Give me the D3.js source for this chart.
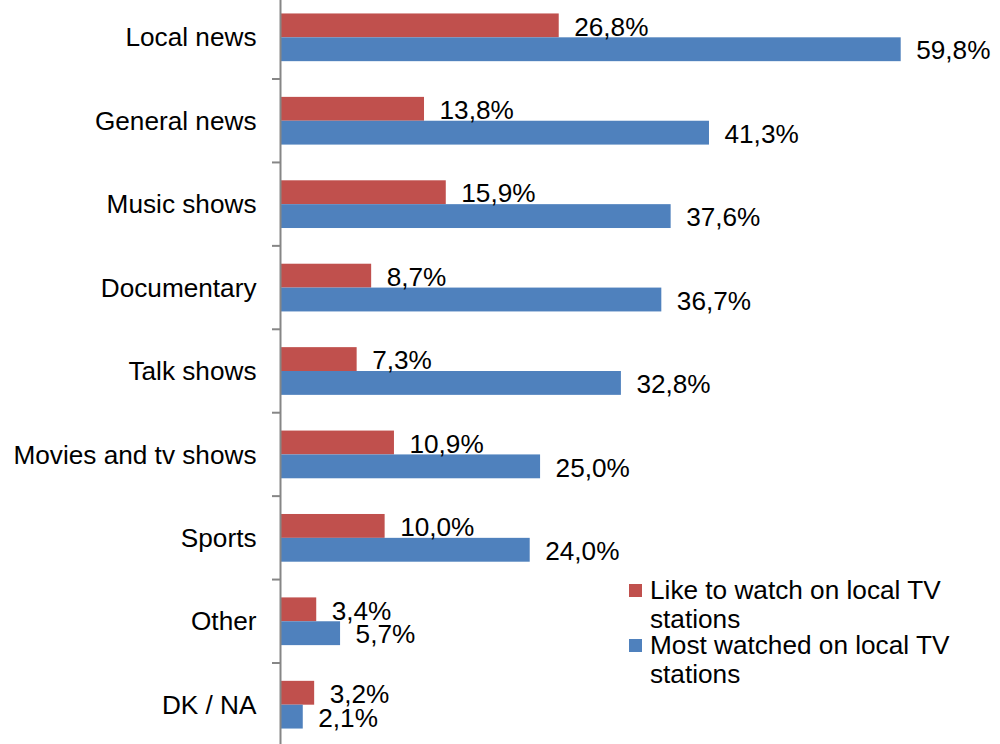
<!DOCTYPE html>
<html>
<head>
<meta charset="utf-8">
<script src="https://cdn.jsdelivr.net/npm/d3@7"></script>
<style>
  html, body { margin: 0; padding: 0; background: #fff; }
  svg { display: block; }
  text { font-family: "Liberation Sans", Arial, sans-serif; fill: #000; }
</style>
</head>
<body>
<svg id="chart" width="1000" height="744"></svg>
<script>
// Program types watched on local TV stations (percent of respondents)
const categories = ["Local news", "General news", "Music shows", "Documentary", "Talk shows",
                    "Movies and tv shows", "Sports", "Other", "DK / NA"];
const likeToWatch = [26.8, 13.8, 15.9, 8.7, 7.3, 10.9, 10.0, 3.4, 3.2];
const mostWatched = [59.8, 41.3, 37.6, 36.7, 32.8, 25.0, 24.0, 5.7, 2.1];
const seriesNames = ["Like to watch on local TV stations", "Most watched on local TV stations"];
const seriesColors = ["#C0504D", "#4F81BD"];

const fontSize = 26.2;
const svg = d3.select("#chart");

const x = d3.scaleLinear().domain([0, 70]).range([281, 1006.4]);
const y = d3.scaleBand().domain(categories).range([-4.4, 746.4])
  .paddingInner(0.428).paddingOuter(0.214);
const sub = d3.scaleBand().domain([0, 1]).range([0, y.bandwidth()]);

const rows = categories.map((c, i) => ({ cat: c, vals: [likeToWatch[i], mostWatched[i]] }));

// bars
const g = svg.append("g");
const groups = g.selectAll("g.row").data(rows).join("g")
  .attr("class", "row")
  .attr("transform", d => `translate(0,${y(d.cat)})`);

groups.selectAll("rect").data(d => d.vals.map((v, k) => ({ v, k }))).join("rect")
  .attr("x", x(0))
  .attr("y", d => sub(d.k))
  .attr("width", d => x(d.v) - x(0))
  .attr("height", sub.bandwidth())
  .attr("fill", d => seriesColors[d.k]);

// value labels
groups.selectAll("text.val").data(d => d.vals.map((v, k) => ({ v, k }))).join("text")
  .attr("class", "val")
  .attr("x", d => x(d.v) + 15.5)
  .attr("y", d => sub(d.k) + sub.bandwidth() / 2 + 1)
  .attr("dy", "0.35em")
  .attr("font-size", fontSize)
  .text(d => d.v.toFixed(1).replace(".", ",") + "%");

// category axis
const axis = d3.axisLeft(y).tickSize(0).tickPadding(24);
const axG = svg.append("g").attr("transform", `translate(${x(0) - 0.5},0)`).call(axis);
axG.select(".domain").remove();
axG.selectAll(".tick text")
  .attr("font-size", fontSize)
  .attr("font-family", "Liberation Sans, Arial, sans-serif")
  .attr("fill", "#000")
  .attr("dy", "0.35em");

// axis line and tick marks at band boundaries
const bounds = categories.slice(1).map(c => y(c) - y.step() * y.paddingInner() / 2);
svg.append("line")
  .attr("x1", x(0) - 0.5).attr("x2", x(0) - 0.5)
  .attr("y1", 0).attr("y2", 744)
  .attr("stroke", "#868686").attr("stroke-width", 2);
svg.selectAll("line.tk").data(bounds).join("line")
  .attr("class", "tk")
  .attr("x1", x(0) - 9).attr("x2", x(0))
  .attr("y1", d => d).attr("y2", d => d)
  .attr("stroke", "#868686").attr("stroke-width", 2);

// legend
const legend = svg.append("g").attr("transform", "translate(629,0)");
const legendItems = [
  { name: seriesNames[0], color: seriesColors[0], sq: 584, lines: ["Like to watch on local TV", "stations"], base: 599 },
  { name: seriesNames[1], color: seriesColors[1], sq: 639, lines: ["Most watched on local TV", "stations"], base: 654 }
];
legendItems.forEach(it => {
  legend.append("rect").attr("x", 0).attr("y", it.sq).attr("width", 13).attr("height", 13)
    .attr("fill", it.color);
  const t = legend.append("text").attr("x", 21).attr("y", it.base).attr("font-size", fontSize);
  it.lines.forEach((ln, i) => {
    t.append("tspan").attr("x", 21).attr("dy", i === 0 ? 0 : 28.5).text(ln);
  });
});
</script>
</body>
</html>
